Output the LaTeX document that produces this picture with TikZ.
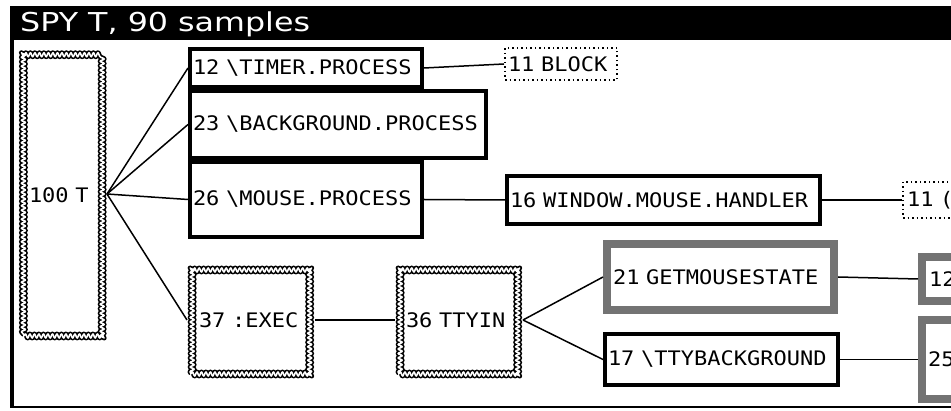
\documentclass[tikz,border=0pt]{standalone}
\usepackage{fontspec}
\newfontfamily\spyfont[FakeStretch=1.1]{DejaVu Sans Mono}
\newfontfamily\titlefont[FakeStretch=1.22]{DejaVu Sans}
\usepackage{tikz}
\usetikzlibrary{shapes,arrows,decorations.pathmorphing}
\tikzstyle{spytext} = [font=\spyfont\fontsize{20}{24}\selectfont, align=left, inner ysep=1pt]
\tikzstyle{block} = [spytext, rectangle, draw, line width=4pt, inner xsep=3pt]
\tikzstyle{wavy} = [spytext, rectangle, draw, line width=1.7pt, double=white,
    double distance=1.6pt, line join=round, outer sep=4pt, decorate,
    decoration={snake, amplitude=2pt, segment length=4.5pt}]
\tikzstyle{dotbox} = [spytext, rectangle, draw, line width=2pt,
    dash pattern=on 1.5pt off 3pt, inner xsep=3pt]
\tikzstyle{stipple} = [spytext, rectangle, fill=black!55, outer sep=0pt,
    path picture={\fill[white] ([shift={(8pt,-8pt)}]path picture bounding box.north west)
      rectangle ([shift={(-8pt,8pt)}]path picture bounding box.south east);}]
\tikzstyle{line} = [draw, line width=1.5pt]

\begin{document}
\begin{tikzpicture}[x=1pt, y=-1pt]
    \useasboundingbox (0,0) rectangle (951,411);
    \clip (0,0) rectangle (951,411);
    % Window frame
    \fill (10,6) rectangle (951,40);
    \draw [line width=4pt] (12,40) -- (12,408);
    \draw [line width=2.5pt] (10,407) -- (951,407);
    \node [anchor=base west, text=white, inner sep=0pt,
        font=\titlefont\fontsize{26}{30}\selectfont] (title) at (20,32) {SPY T, 90 samples};
    % Place nodes
    \node [wavy, text width=69pt, minimum height=282pt, inner xsep=5pt, anchor=west] (t100) at (20,195) {100~T};
    \coordinate (hub) at (107,194);
    \node [block, text width=226pt, minimum height=38pt, anchor=west] (timer) at (188,68) {12~\textbackslash TIMER.PROCESS};
    \node [block, text width=290pt, minimum height=67pt, anchor=west] (backgr) at (188,124.5) {23~\textbackslash BACKGROUND.PROCESS};
    \node [block, text width=226pt, minimum height=75pt, anchor=west] (mouse) at (188,199.5) {26~\textbackslash MOUSE.PROCESS};
    \node [dotbox, text width=106pt, minimum height=32pt, anchor=west] (block1) at (504,64) {11~BLOCK};
    \node [block, text width=307pt, minimum height=48pt, anchor=west] (window) at (505,200) {16~WINDOW.MOUSE.HANDLER};
    \node [dotbox, text width=190pt, minimum height=36pt, inner xsep=4pt, anchor=west] (cursor) at (902,200) {11~(};
    \node [wavy, text width=104pt, minimum height=108pt, inner xsep=8pt, anchor=west] (exec) at (187,320) {37~:EXEC};
    \node [wavy, text width=106pt, minimum height=108pt, inner xsep=7pt, anchor=west] (ttyin) at (395,320) {36~TTYIN};
    \node [stipple, text width=215pt, minimum height=74pt, inner xsep=10pt, anchor=west] (getmouse) at (603,277) {21~GETMOUSESTATE};
    \node [block, text width=227pt, minimum height=51pt, anchor=west] (ttyback) at (603,359.5) {17~\textbackslash TTYBACKGROUND};
    \node [stipple, text width=178pt, minimum height=52pt, inner xsep=11pt, anchor=west] (gm12) at (918,279) {12};
    \node [stipple, text width=180pt, minimum height=87pt, inner xsep=10pt, anchor=west] (tb25) at (918,359.5) {25};
    % Draw edges
    \path [line] (hub) -- (timer.west);
    \path [line] (hub) -- (backgr.west);
    \path [line] (hub) -- (mouse.west);
    \path [line] (hub) -- (exec.west);
    \path [line] (timer.east) -- (block1.west);
    \path [line] (mouse.east) -- (window.west);
    \path [line] (window.east) -- (cursor.west);
    \path [line] (exec.east) -- (ttyin.west);
    \path [line] (ttyin.east) -- (getmouse.west);
    \path [line] (ttyin.east) -- (ttyback.west);
    \path [line] (getmouse.east) -- (gm12.west);
    \path [line] (ttyback.east) -- (tb25.west);
\end{tikzpicture}
\end{document}
